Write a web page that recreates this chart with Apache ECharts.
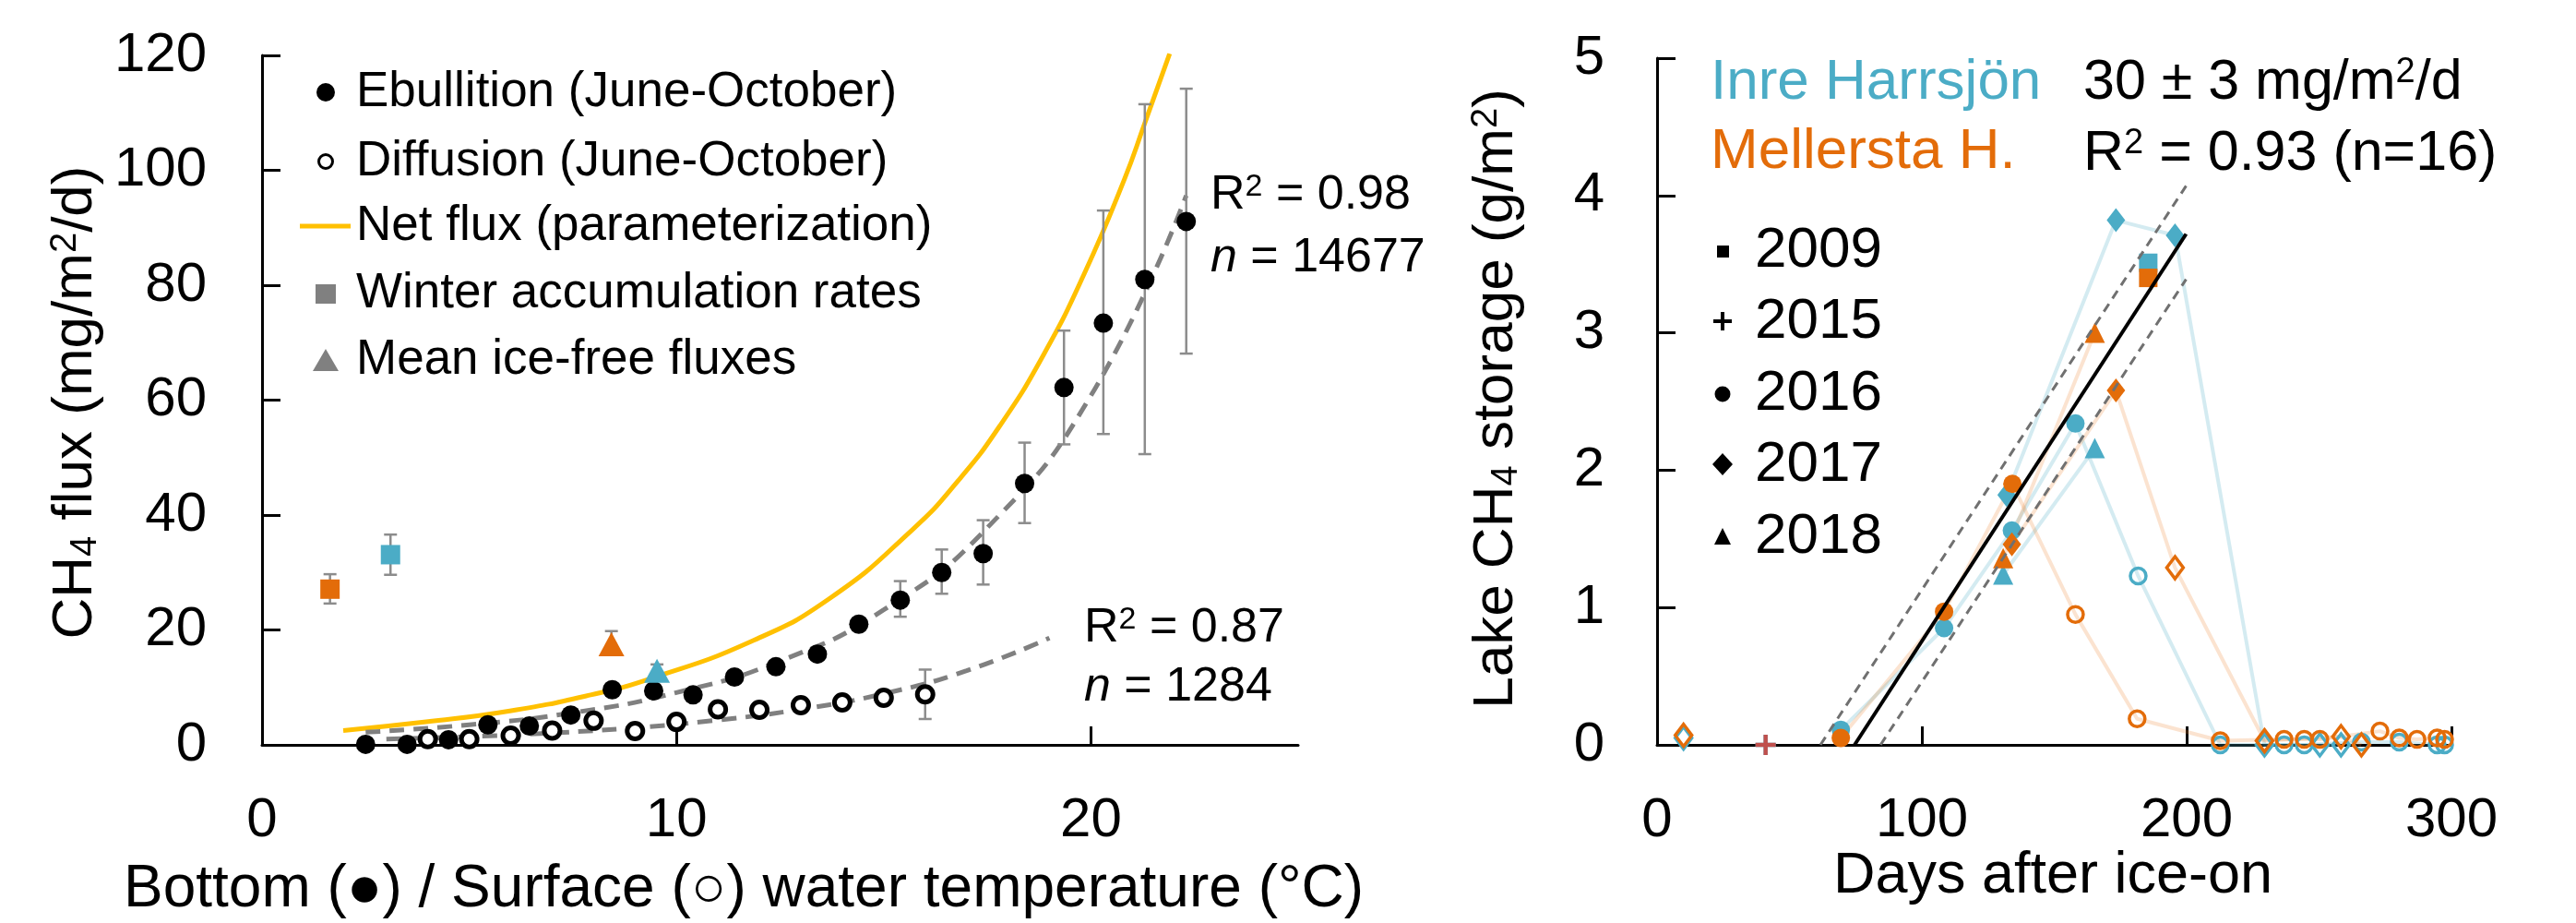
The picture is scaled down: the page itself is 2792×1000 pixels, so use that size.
<!DOCTYPE html>
<html><head><meta charset="utf-8">
<script src="https://cdn.jsdelivr.net/npm/echarts@6/dist/echarts.min.js"></script>
<style>html,body{margin:0;padding:0;background:#fff}#c{width:2792px;height:1000px}</style>
</head><body><div id="c"></div>
<script>
// ---------- Left panel data ----------
const xTicksL = [0, 10, 20];
const yTicksL = [0, 20, 40, 60, 80, 100, 120];
const ebT  = [2.5,3.5,4.5,5.45,6.45,7.45,8.45,9.45,10.4,11.4,12.4,13.4,14.4,15.4,16.4,17.4,18.4,19.35,20.3,21.3,22.3];
const ebF  = [0.1,0.1,0.9,3.5,3.3,5.2,9.6,9.4,8.7,11.8,13.6,15.8,21.0,25.2,30.0,33.3,45.5,62.2,73.4,81.0,91.1];
const ebLo = [null,null,null,null,null,null,null,null,null,null,null,null,null,22.3,26.3,27.9,38.6,52.3,54.1,50.6,68.1];
const ebHi = [null,null,null,null,null,null,null,null,null,null,null,null,null,28.5,34.0,39.1,52.6,72.1,93.0,111.5,114.2];
const difT = [4,5,6,7,8,9,10,11,12,13,14,15,16];
const difF = [1.0,1.0,1.6,2.5,4.2,2.4,4.0,6.2,6.1,6.9,7.4,8.2,8.8];
const difLo = [null,null,null,null,null,null,null,null,null,null,null,null,4.5];
const difHi = [null,null,null,null,null,null,null,null,null,null,null,null,13.1];
const netT = [1.96,3.96,5.98,7.93,9.4,11.8,13.7,15.7,16.8,17.8,18.85,19.84,20.8,21.3,21.9];
const netF = [2.5,4.0,5.9,8.7,11.6,18.0,25.5,37.5,46.0,55.5,67.8,82.0,98.3,108.2,120.3];
const ebFitT = [2.5,5,7.5,10,12.5,15,17.5,20,22.3];
const ebFitF = [2.2,3.5,5.6,9.1,14.6,23.5,37.8,60.8,95.6];
const difFitT = [3,5,7,9,11,13,15,17,19];
const difFitF = [1.0,1.44,2.07,2.99,4.31,6.2,8.9,12.9,18.6];
// winter accumulation rates (orange = Mellersta, blue = Inre)
const winT = [1.64, 3.10];
const winF = [27.1, 33.1];
const winLo = [24.6, 29.6];
const winHi = [29.7, 36.6];
// mean ice-free fluxes
const iceT = [8.43, 9.53];
const iceF = [17.5, 12.9];
const iceLo = [16.2, 11.9];
const iceHi = [19.8, 14.0];
const lakeColors = ['#e36c09', '#4bacc6'];

// ---------- Right panel data ----------
const xTicksR = [0, 100, 200, 300];
const yTicksR = [0, 1, 2, 3, 4, 5];
// Inre Harrsjön (blue)
const ih2009 = [[185.5, 3.51]];
const ih2015 = [[41, 0]];
const ih2016 = [[69.4, 0.11], [108.4, 0.85], [134, 1.56], [158, 2.34]];
const ih2016open = [[181.7, 1.23], [212.7, 0.0], [236.8, 0.0], [244.4, 0.0], [266, 0.02], [280.3, 0.02], [294.6, 0.0], [297.4, 0.0]];
const ih2017 = [[132, 1.82], [173.3, 3.82], [195.6, 3.71]];
const ih2017open = [[229.4, 0.0], [250.3, 0.0], [258.3, 0.0]];
const ih2017early = [[10, 0.05]];
const ih2018 = [[130.7, 1.24], [165.3, 2.16]];
// Mellersta Harrsjön (orange)
const mh2009 = [[185.5, 3.40]];
const mh2015 = [[41, 0]];
const mh2016 = [[69.4, 0.05], [108.4, 0.97], [134.2, 1.90]];
const mh2016open = [[158, 0.95], [181.3, 0.19], [212.7, 0.03], [236.8, 0.04], [244.4, 0.04], [250.3, 0.04], [273, 0.1], [280.3, 0.05], [287, 0.04], [294.6, 0.05], [297.4, 0.04]];
const mh2017 = [[134, 1.46], [173.3, 2.58]];
const mh2017open = [[195.6, 1.29], [229.4, 0.03], [258.3, 0.06], [266, 0.0]];
const mh2017early = [[10, 0.07]];
const mh2018 = [[130.7, 1.36], [165.3, 3.00]];
// regression (30 ± 3 mg/m2/d) and its bounds
const regFit = [[74.6, 0], [199.8, 3.72]];
const regUp  = [[61.7, 0], [199.8, 4.07]];
const regLow = [[84.4, 0], [199.8, 3.39]];

// ---------- helpers ----------
const FONT = '"Liberation Sans", Arial, Helvetica, sans-serif';
const pairs = (a, b) => a.map((v, i) => [v, b[i]]);
const errs = (t, lo, hi) => t.map((v, i) => [v, lo[i], hi[i]]).filter(d => d[1] != null);
const byTime = arr => arr.slice().sort((a, b) => a[0] - b[0]);

function errRender(params, api) {
  const x = api.value(0), lo = api.value(1), hi = api.value(2);
  const p1 = api.coord([x, lo]), p2 = api.coord([x, hi]);
  const w = 7;
  const st = { stroke: '#8c8c8c', lineWidth: 2.5 };
  return { type: 'group', children: [
    { type: 'line', shape: { x1: p1[0], y1: p1[1], x2: p2[0], y2: p2[1] }, style: st },
    { type: 'line', shape: { x1: p1[0] - w, y1: p1[1], x2: p1[0] + w, y2: p1[1] }, style: st },
    { type: 'line', shape: { x1: p2[0] - w, y1: p2[1], x2: p2[0] + w, y2: p2[1] }, style: st }
  ]};
}

function axisDef(grid, min, max, interval, ticks, margin) {
  return {
    gridIndex: grid, type: 'value', min: min, max: max, interval: interval,
    axisLine: { show: true, onZero: false, lineStyle: { color: '#000', width: 3 } },
    axisTick: { show: true, inside: true, length: 20, customValues: ticks.slice(1), lineStyle: { color: '#000', width: 3 } },
    splitLine: { show: false },
    axisLabel: { show: true, customValues: ticks, margin: margin, color: '#000', fontSize: 60, fontFamily: FONT }
  };
}

const BLUE = '#4bacc6', ORANGE = '#e36c09';
const BLUE_L = 'rgba(75,172,198,0.24)', ORANGE_L = 'rgba(240,140,60,0.24)';

function lightLine(data, color) {
  return { type: 'line', xAxisIndex: 1, yAxisIndex: 1, data: byTime(data), showSymbol: false, symbol: 'none',
    lineStyle: { color: color, width: 4 }, z: 1, silent: true };
}
function marks(data, symbol, size, color, open) {
  return { type: 'scatter', xAxisIndex: 1, yAxisIndex: 1, data: data, symbol: symbol, symbolSize: size,
    itemStyle: open ? { color: 'rgba(255,255,255,0)', borderColor: color, borderWidth: 3.5, opacity: 1 } : { color: color, opacity: 1 }, z: 3 };
}

const crossPath = 'path://M-1,-5 L1,-5 L1,-1 L5,-1 L5,1 L1,1 L1,5 L-1,5 L-1,1 L-5,1 L-5,-1 L-1,-1 Z';

const option = {
  animation: false,
  backgroundColor: '#fff',
  grid: [
    { left: 284, top: 60, width: 1123, height: 747 },
    { left: 1796, top: 63, width: 861, height: 744 }
  ],
  xAxis: [
    axisDef(0, 0, 25, 10, xTicksL, 52),
    axisDef(1, 0, 300, 100, xTicksR, 52)
  ],
  yAxis: [
    axisDef(0, 0, 120, 20, yTicksL, 60),
    axisDef(1, 0, 5, 1, yTicksR, 57)
  ],
  series: [
    // ----- left -----
    { type: 'line', xAxisIndex: 0, yAxisIndex: 0, data: pairs(netT, netF), smooth: 0.5, showSymbol: false, symbol: 'none',
      lineStyle: { color: '#ffc000', width: 5 }, z: 2 },
    { type: 'line', xAxisIndex: 0, yAxisIndex: 0, data: pairs(ebFitT, ebFitF), smooth: true, showSymbol: false, symbol: 'none',
      lineStyle: { color: '#808080', width: 5, type: [16, 10] }, z: 2 },
    { type: 'line', xAxisIndex: 0, yAxisIndex: 0, data: pairs(difFitT, difFitF), smooth: true, showSymbol: false, symbol: 'none',
      lineStyle: { color: '#808080', width: 5, type: [16, 10] }, z: 2 },
    { type: 'custom', xAxisIndex: 0, yAxisIndex: 0, renderItem: errRender, z: 3,
      data: errs(ebT, ebLo, ebHi).concat(errs(difT, difLo, difHi), errs(winT, winLo, winHi), errs(iceT, iceLo, iceHi)) },
    { type: 'scatter', xAxisIndex: 0, yAxisIndex: 0, data: pairs(difT, difF), symbol: 'circle', symbolSize: 17,
      itemStyle: { color: '#fff', borderColor: '#000', borderWidth: 5, opacity: 1 }, z: 4 },
    { type: 'scatter', xAxisIndex: 0, yAxisIndex: 0, data: pairs(ebT, ebF), symbol: 'circle', symbolSize: 21,
      itemStyle: { color: '#000', opacity: 1 }, z: 5 },
    { type: 'scatter', xAxisIndex: 0, yAxisIndex: 0, symbol: 'rect', symbolSize: 21, z: 5,
      data: winT.map((t, i) => ({ value: [t, winF[i]], itemStyle: { color: lakeColors[i], opacity: 1 } })) },
    { type: 'scatter', xAxisIndex: 0, yAxisIndex: 0, symbol: 'triangle', symbolSize: [28, 26], z: 5,
      data: iceT.map((t, i) => ({ value: [t, iceF[i]], itemStyle: { color: lakeColors[i], opacity: 1 } })) },
    // ----- right: light connecting lines -----
    lightLine(ih2016.concat(ih2016open), BLUE_L),
    lightLine(ih2017.concat(ih2017open), BLUE_L),
    lightLine(ih2018, BLUE_L),
    lightLine(mh2016.concat(mh2016open), ORANGE_L),
    lightLine(mh2017.concat(mh2017open), ORANGE_L),
    lightLine(mh2018, ORANGE_L),
    // ----- right: markers, blue first then orange -----
    marks(ih2016open, 'circle', 17, BLUE, true),
    marks(ih2017open.concat(ih2017early), 'diamond', [18, 24], BLUE, true),
    marks(ih2009, 'rect', 20, BLUE, false),
    marks(ih2015, crossPath, 22, BLUE, false),
    marks(ih2016, 'circle', 20, BLUE, false),
    marks(ih2017, 'diamond', [20, 26], BLUE, false),
    marks(ih2018, 'triangle', [22, 22], BLUE, false),
    marks(mh2016open, 'circle', 17, ORANGE, true),
    marks(mh2017open.concat(mh2017early), 'diamond', [18, 24], ORANGE, true),
    marks(mh2009, 'rect', 20, ORANGE, false),
    marks(mh2015, crossPath, 22, '#c0504d', false),
    marks(mh2016, 'circle', 20, ORANGE, false),
    marks(mh2017, 'diamond', [20, 26], ORANGE, false),
    marks(mh2018, 'triangle', [22, 22], ORANGE, false),
    // ----- right: regression lines -----
    { type: 'line', xAxisIndex: 1, yAxisIndex: 1, data: regUp, showSymbol: false, symbol: 'none',
      lineStyle: { color: '#707070', width: 3, type: [10, 7] }, z: 6 },
    { type: 'line', xAxisIndex: 1, yAxisIndex: 1, data: regLow, showSymbol: false, symbol: 'none',
      lineStyle: { color: '#707070', width: 3, type: [10, 7] }, z: 6 },
    { type: 'line', xAxisIndex: 1, yAxisIndex: 1, data: regFit, showSymbol: false, symbol: 'none',
      lineStyle: { color: '#000', width: 4 }, z: 7 }
  ],
  graphic: [
    // y axis titles
    { type: 'text', x: 82, y: 436, rotation: Math.PI / 2, style: { text: 'CH{sub|4} flux (mg/m{sup|2}/d)', fontSize: 62, fontFamily: FONT, fill: '#000', align: 'center', verticalAlign: 'middle',
        rich: { sub: { fontSize: 40, verticalAlign: 'bottom', fontFamily: FONT }, sup: { fontSize: 40, verticalAlign: 'top', fontFamily: FONT } } } },
    { type: 'text', x: 1622, y: 432, rotation: Math.PI / 2, style: { text: 'Lake CH{sub|4} storage (g/m{sup|2})', fontSize: 62, fontFamily: FONT, fill: '#000', align: 'center', verticalAlign: 'middle',
        rich: { sub: { fontSize: 40, verticalAlign: 'bottom', fontFamily: FONT }, sup: { fontSize: 40, verticalAlign: 'top', fontFamily: FONT } } } },
    // x axis titles
    { type: 'text', x: 806, y: 964, style: { text: 'Bottom (\u25CF) / Surface (\u25CB) water temperature (\u00B0C)', fontSize: 64, fontFamily: FONT, fill: '#000', align: 'center', verticalAlign: 'middle' } },
    { type: 'text', x: 2225, y: 950, style: { text: 'Days after ice-on', fontSize: 63, fontFamily: FONT, fill: '#000', align: 'center', verticalAlign: 'middle' } },
    // left legend
    { type: 'circle', shape: { cx: 353, cy: 100, r: 10 }, style: { fill: '#000' } },
    { type: 'circle', shape: { cx: 353, cy: 175, r: 7.5 }, style: { fill: '#fff', stroke: '#000', lineWidth: 3 } },
    { type: 'line', shape: { x1: 325, y1: 245, x2: 380, y2: 245 }, style: { stroke: '#ffc000', lineWidth: 5 } },
    { type: 'rect', shape: { x: 342, y: 308, width: 22, height: 21 }, style: { fill: '#808080' } },
    { type: 'polygon', shape: { points: [[353, 378], [339, 402], [367, 402]] }, style: { fill: '#808080' } },
    { type: 'text', x: 386, y: 100, style: { text: 'Ebullition (June-October)', fontSize: 53, fontFamily: FONT, fill: '#000', verticalAlign: 'middle' } },
    { type: 'text', x: 386, y: 175, style: { text: 'Diffusion (June-October)', fontSize: 53, fontFamily: FONT, fill: '#000', verticalAlign: 'middle' } },
    { type: 'text', x: 386, y: 245, style: { text: 'Net flux (parameterization)', fontSize: 53, fontFamily: FONT, fill: '#000', verticalAlign: 'middle' } },
    { type: 'text', x: 386, y: 318, style: { text: 'Winter accumulation rates', fontSize: 53, fontFamily: FONT, fill: '#000', verticalAlign: 'middle' } },
    { type: 'text', x: 386, y: 390, style: { text: 'Mean ice-free fluxes', fontSize: 53, fontFamily: FONT, fill: '#000', verticalAlign: 'middle' } },
    // left fit statistics
    { type: 'text', x: 1312, y: 212, style: { text: 'R{sup|2} = 0.98', fontSize: 52, fontFamily: FONT, fill: '#000', verticalAlign: 'middle', rich: { sup: { fontSize: 34, verticalAlign: 'top', fontFamily: FONT } } } },
    { type: 'text', x: 1312, y: 280, style: { text: '{i|n} = 14677', fontSize: 52, fontFamily: FONT, fill: '#000', verticalAlign: 'middle', rich: { i: { fontSize: 52, fontStyle: 'italic', fontFamily: FONT } } } },
    { type: 'text', x: 1175, y: 681, style: { text: 'R{sup|2} = 0.87', fontSize: 52, fontFamily: FONT, fill: '#000', verticalAlign: 'middle', rich: { sup: { fontSize: 34, verticalAlign: 'top', fontFamily: FONT } } } },
    { type: 'text', x: 1175, y: 745, style: { text: '{i|n} = 1284', fontSize: 52, fontFamily: FONT, fill: '#000', verticalAlign: 'middle', rich: { i: { fontSize: 52, fontStyle: 'italic', fontFamily: FONT } } } },
    // right header texts
    { type: 'text', x: 1854, y: 90, style: { text: 'Inre Harrsjön', fontSize: 62, fontFamily: FONT, fill: BLUE, verticalAlign: 'middle' } },
    { type: 'text', x: 1854, y: 165, style: { text: 'Mellersta H.', fontSize: 62, fontFamily: FONT, fill: ORANGE, verticalAlign: 'middle' } },
    { type: 'text', x: 2258, y: 90, style: { text: '30 \u00B1 3 mg/m{sup|2}/d', fontSize: 61, fontFamily: FONT, fill: '#000', verticalAlign: 'middle', rich: { sup: { fontSize: 38, verticalAlign: 'top', fontFamily: FONT } } } },
    { type: 'text', x: 2258, y: 167, style: { text: 'R{sup|2} = 0.93 (n=16)', fontSize: 61, fontFamily: FONT, fill: '#000', verticalAlign: 'middle', rich: { sup: { fontSize: 38, verticalAlign: 'top', fontFamily: FONT } } } },
    // right legend
    { type: 'rect', shape: { x: 1861, y: 266, width: 13, height: 13 }, style: { fill: '#000' } },
    { type: 'rect', shape: { x: 1865, y: 338, width: 4, height: 20 }, style: { fill: '#000' } },
    { type: 'rect', shape: { x: 1857, y: 346, width: 20, height: 4 }, style: { fill: '#000' } },
    { type: 'circle', shape: { cx: 1867, cy: 427, r: 8.5 }, style: { fill: '#000' } },
    { type: 'polygon', shape: { points: [[1867, 491], [1878, 503], [1867, 515], [1856, 503]] }, style: { fill: '#000' } },
    { type: 'polygon', shape: { points: [[1867, 572], [1876, 590], [1858, 590]] }, style: { fill: '#000' } },
    { type: 'text', x: 1902, y: 272, style: { text: '2009', fontSize: 62, fontFamily: FONT, fill: '#000', verticalAlign: 'middle' } },
    { type: 'text', x: 1902, y: 349, style: { text: '2015', fontSize: 62, fontFamily: FONT, fill: '#000', verticalAlign: 'middle' } },
    { type: 'text', x: 1902, y: 427, style: { text: '2016', fontSize: 62, fontFamily: FONT, fill: '#000', verticalAlign: 'middle' } },
    { type: 'text', x: 1902, y: 504, style: { text: '2017', fontSize: 62, fontFamily: FONT, fill: '#000', verticalAlign: 'middle' } },
    { type: 'text', x: 1902, y: 582, style: { text: '2018', fontSize: 62, fontFamily: FONT, fill: '#000', verticalAlign: 'middle' } }
  ]
};
const chart = echarts.init(document.getElementById('c'), null, { renderer: 'canvas' });
chart.setOption(option);
</script></body></html>
